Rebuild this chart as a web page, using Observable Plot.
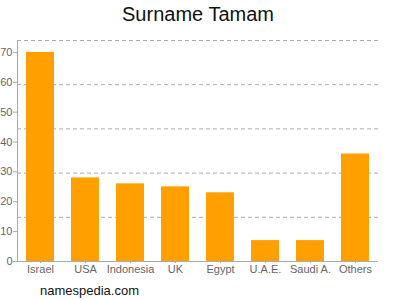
<!DOCTYPE html>
<html>
<head>
<meta charset="utf-8">
<script src="https://cdn.jsdelivr.net/npm/d3@7"></script>
<script src="https://cdn.jsdelivr.net/npm/@observablehq/plot@0.6"></script>
<style>
  body { margin: 0; background: #fff; font-family: "Liberation Sans", Arial, sans-serif; }
  #wrap { position: relative; width: 400px; height: 300px; }
  #title { position: absolute; left: 0; top: 3px; width: 396px; text-align: center; font-size: 20px; color: #111; }
  #chart { position: absolute; left: 0; top: 30px; }
  #caption { position: absolute; left: 40px; top: 283px; font-size: 13px; color: #111; }
</style>
</head>
<body>
<div id="wrap">
  <div id="title">Surname Tamam</div>
  <div id="chart"></div>
  <div id="caption">namespedia.com</div>
</div>
<script>
const countries = ["Israel", "USA", "Indonesia", "UK", "Egypt", "U.A.E.", "Saudi A.", "Others"];
const counts = [70, 28, 26, 25, 23, 7, 7, 36];
const yTicks = [0, 10, 20, 30, 40, 50, 60, 70];
const gridLines = [14.8, 29.6, 44.4, 59.2, 74];
const yMax = 74;

const data = countries.map((c, i) => ({country: c, value: counts[i]}));

const chart = Plot.plot({
  width: 400,
  height: 250,
  marginLeft: 17,
  marginRight: 22,
  marginTop: 10,
  marginBottom: 19,
  style: {fontFamily: "Liberation Sans, Arial, sans-serif", fontSize: "11px", color: "#666", background: "transparent"},
  x: {domain: countries, paddingInner: 0.38, paddingOuter: 0.2, label: null},
  y: {domain: [0, yMax], label: null},
  marks: [
    Plot.ruleY(gridLines, {stroke: "#aaa", strokeDasharray: "4,3", strokeWidth: 1}),
    Plot.barY(data, {x: "country", y: "value", fill: "#ffa000"}),
    Plot.frame({anchor: "left", stroke: "#aaa"}),
    Plot.ruleY([0], {stroke: "#aaa"}),
    Plot.axisY(yTicks, {tickSize: 4, tickPadding: 1, stroke: "#aaa", fill: "#666", fontSize: 11}),
    Plot.axisX({tickSize: 2, tickPadding: 2, stroke: "#aaa", fill: "#666", fontSize: 11})
  ]
});
document.getElementById("chart").appendChild(chart);
</script>
</body>
</html>
